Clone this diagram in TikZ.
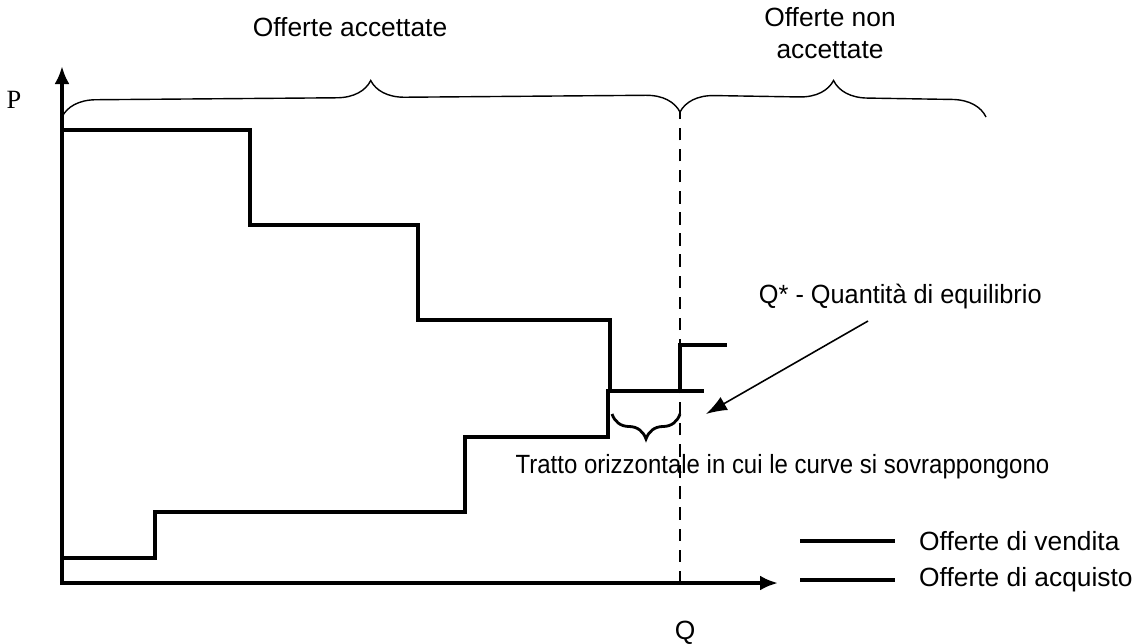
\documentclass[tikz,border=0pt]{standalone}
\usepackage{fontspec}
\setmainfont{Liberation Sans}
\newfontfamily\serifP{Liberation Serif}
\usetikzlibrary{decorations.pathreplacing,arrows.meta}
\begin{document}
\begin{tikzpicture}[x=0.02cm, y=-0.02cm, font=\fontsize{15}{18}\selectfont,
  curve/.style={line width=2.2pt},
  bigbrace/.style={decorate, decoration={brace, amplitude=0.68cm}, line width=0.8pt},
  smallbrace/.style={decorate, decoration={brace, amplitude=0.5cm}, line width=1.6pt}]
\useasboundingbox (0,0) rectangle (1142,643);
% axes
\coordinate (O) at (62,583);
\coordinate (ytip) at (62,66);
\coordinate (xtip) at (778,583);
\draw[curve, {Latex[length=0.36cm,width=0.3cm]}-{Latex[length=0.36cm,width=0.3cm]}] (ytip) |- (xtip);
\node[font=\serifP\fontsize{15}{18}\selectfont] (P) at (14,100) {P};
\node (Q) at (685,633) {Q};
% equilibrium
\coordinate (qstar) at (680,583);
\coordinate (qtop) at (680,112);
\draw[dashed, line width=0.8pt, dash pattern=on 7pt off 5pt] (qstar) -- (qtop);
% offerte di acquisto
\draw[curve] (62,130) -- (250,130) -- (250,225) -- (418,225) -- (418,320)
  -- (610,320) -- (610,391) -- (704,391);
% offerte di vendita
\draw[curve] (62,558) -- (155,558) -- (155,512) -- (465,512) -- (465,437)
  -- (608,437) -- (608,391) -- (680,391) -- (680,345) -- (727,345);
% braces
\draw[bigbrace] (62,117) -- (qtop);
\draw[bigbrace] (qtop) -- (986,117);
\draw[smallbrace] (680,414) -- (612,414);
\node (acc) at (350,27) {Offerte accettate};
\node[align=center] (nonacc) at (830,33) {Offerte non\\accettate};
\node[anchor=west, xscale=0.96] (eq) at (753,297) {Q* - Quantità di equilibrio};
\coordinate (eqstart) at (868,321);
\coordinate (eqpt) at (706,414);
\draw[line width=0.9pt, -{Latex[length=0.42cm,width=0.3cm]}] (eqstart) -- (eqpt);
\node[anchor=west, xscale=0.91] (tratto) at (510,467) {Tratto orizzontale in cui le curve si sovrappongono};
% legend
\node[anchor=west] (vend) at (913,541) {Offerte di vendita};
\node[anchor=west] (acq) at (913,580) {Offerte di acquisto};
\draw[curve] (800,541) -- ([xshift=-0.36cm]vend.west);
\draw[curve] (800,580) -- ([xshift=-0.36cm]acq.west);
\end{tikzpicture}
\end{document}
